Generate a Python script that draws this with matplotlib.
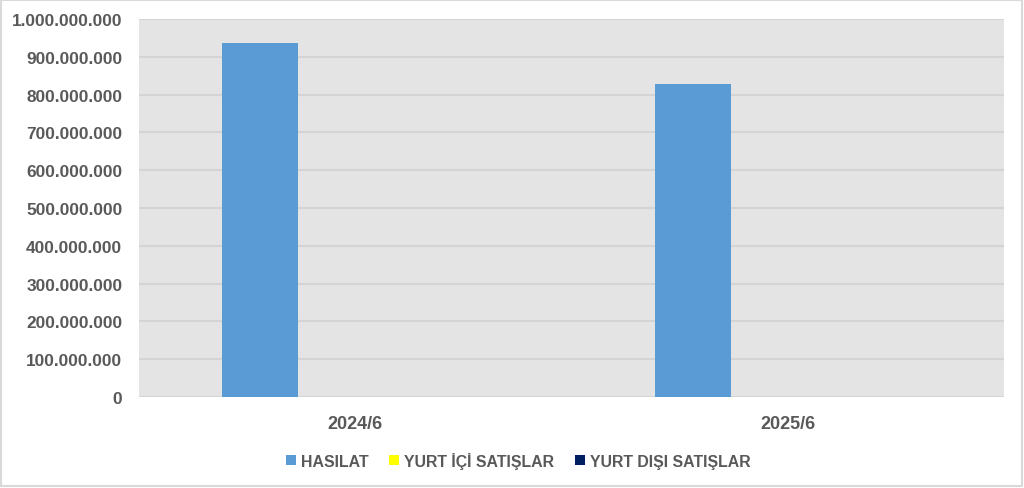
import matplotlib
matplotlib.use('Agg')
from matplotlib import pyplot as plt
from matplotlib.ticker import FuncFormatter, MultipleLocator
from matplotlib.patches import Rectangle
import numpy as np

# data
periods = ['2024/6', '2025/6']
hasilat = [936500000, 828000000]
yurt_ici = [0, 0]
yurt_disi = [0, 0]

plt.rcParams['font.family'] = ['Liberation Sans', 'DejaVu Sans']

fig = plt.figure(figsize=(10.24, 4.89), dpi=100)
ax = fig.add_axes([0.1357, 0.1861, 0.8448, 0.7729])
ax.set_facecolor('#e4e4e4')

x = np.arange(len(periods))
w = 0.176
ax.bar(x - 0.22, hasilat, w, color='#5b9bd5', label='HASILAT', zorder=3)
ax.bar(x, yurt_ici, w, color='#ffff00', label='YURT İÇİ SATIŞLAR', zorder=3)
ax.bar(x + 0.22, yurt_disi, w, color='#002060', label='YURT DIŞI SATIŞLAR', zorder=3)

ax.set_xlim(-0.5, 1.5)
ax.set_ylim(0, 1e9)
ax.yaxis.set_major_locator(MultipleLocator(1e8))
ax.yaxis.set_major_formatter(FuncFormatter(lambda v, p: f'{int(round(v)):,}'.replace(',', '.')))
ax.grid(axis='y', color='#d4d4d4', linewidth=1.5, zorder=0)
ax.set_xticks(x)
ax.set_xticklabels(periods)
for s in ax.spines.values():
    s.set_visible(False)
ax.tick_params(length=0, colors='#595959')
ax.tick_params(axis='x', pad=13, labelsize=13)
ax.tick_params(axis='y', pad=12, labelsize=12.4)
for lab in ax.get_xticklabels() + ax.get_yticklabels():
    lab.set_fontweight('bold')

leg = fig.legend(loc='center', bbox_to_anchor=(0.506, 0.057), ncol=3, frameon=False,
                 handlelength=0.65, handleheight=0.65, handletextpad=0.3, columnspacing=1.3,
                 prop={'weight': 'bold', 'size': 11.4})
for t in leg.get_texts():
    t.set_color('#595959')

fig.patches.append(Rectangle((0.001, 0.004), 0.997, 0.993, transform=fig.transFigure,
                             fill=False, edgecolor='#d9d9d9', linewidth=1.5))

fig.savefig('out.png', dpi=100)
